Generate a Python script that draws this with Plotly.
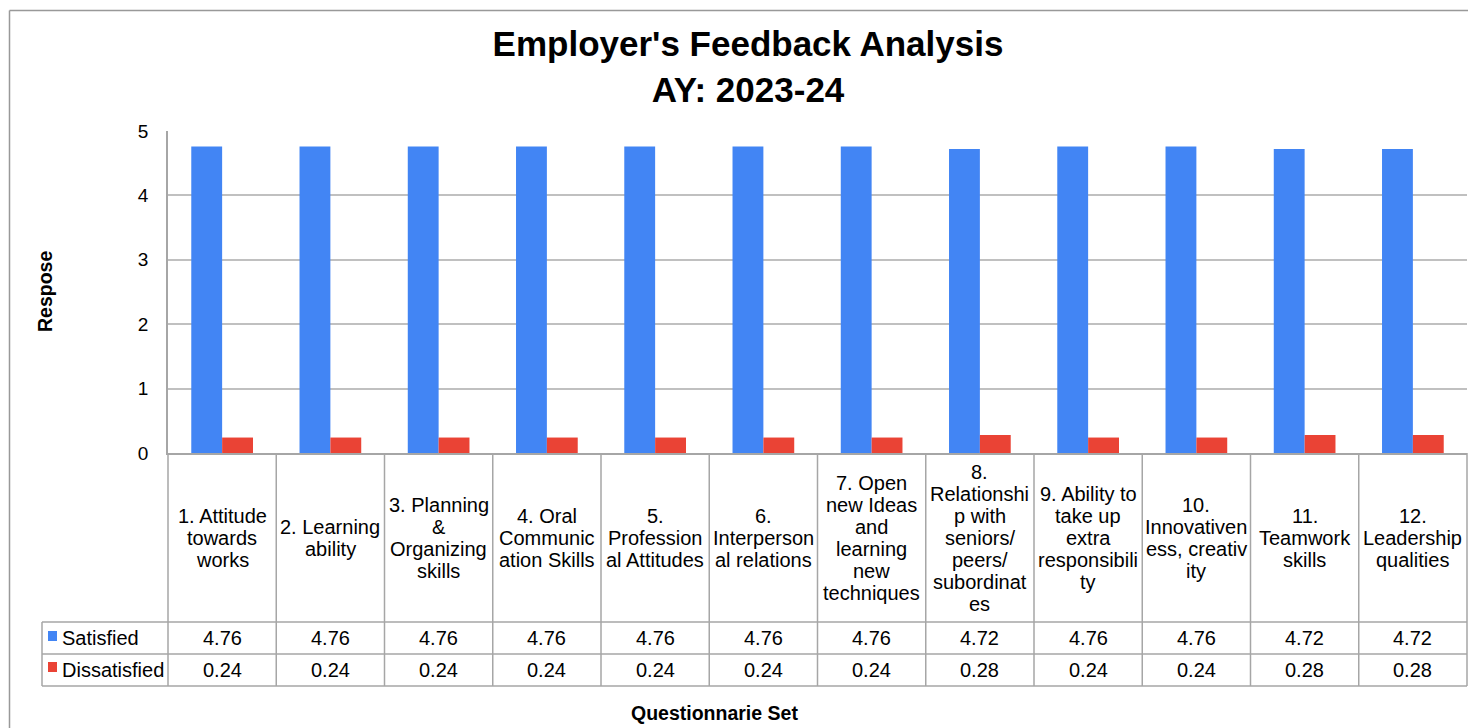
import plotly.graph_objects as go

# Data
categories = [
    "1. Attitude<br>towards<br>works",
    "2. Learning<br>ability",
    "3. Planning<br>&<br>Organizing<br>skills",
    "4. Oral<br>Communic<br>ation Skills",
    "5.<br>Profession<br>al Attitudes",
    "6.<br>Interperson<br>al relations",
    "7. Open<br>new Ideas<br>and<br>learning<br>new<br>techniques",
    "8.<br>Relationshi<br>p with<br>seniors/<br>peers/<br>subordinat<br>es",
    "9. Ability to<br>take up<br>extra<br>responsibili<br>ty",
    "10.<br>Innovativen<br>ess, creativ<br>ity",
    "11.<br>Teamwork<br>skills",
    "12.<br>Leadership<br>qualities",
]
satisfied = [4.76, 4.76, 4.76, 4.76, 4.76, 4.76, 4.76, 4.72, 4.76, 4.76, 4.72, 4.72]
dissatisfied = [0.24, 0.24, 0.24, 0.24, 0.24, 0.24, 0.24, 0.28, 0.24, 0.24, 0.28, 0.28]
series_names = ["Satisfied", "Dissatisfied"]
y_ticks = [0, 1, 2, 3, 4, 5]

# Colors / fonts
blue = "#4285F4"
red = "#EA4335"
grid_color = "#c0c0c0"
table_line = "#a6a6a6"
font_family = "Liberation Sans, Arial, sans-serif"

# the page body has an 8px margin, so the figure starts at (8, 8) on screen
OFF = 8
W, H = 1476 - OFF, 728 - OFF
# target screen positions of the plot area
SX0, SX1, SY0, SY1 = 168, 1467, 131, 453
L, R, T, B = SX0 - OFF, W - (SX1 - OFF), SY0 - OFF, H - (SY1 - OFF)
plot_w = SX1 - SX0
plot_h = SY1 - SY0


def px(x):
    # screen x pixel -> paper
    return (x - SX0) / plot_w


def py(y):
    # screen y pixel -> paper
    return (SY1 - y) / plot_h


n = len(categories)
keys = [str(i) for i in range(n)]

fig = go.Figure()

fig.add_trace(go.Bar(
    x=keys, y=satisfied, name=series_names[0],
    marker=dict(color=blue, line=dict(width=0)),
))
fig.add_trace(go.Bar(
    x=keys, y=dissatisfied, name=series_names[1],
    marker=dict(color=red, line=dict(width=0)),
))

shapes = []
# outer chart border
shapes.append(dict(type="line", xref="paper", yref="paper",
                   x0=px(9.5), x1=px(1490), y0=py(10.5), y1=py(10.5),
                   line=dict(color="#999999", width=1.5)))
shapes.append(dict(type="line", xref="paper", yref="paper",
                   x0=px(9.5), x1=px(9.5), y0=py(10.5), y1=py(740),
                   line=dict(color="#999999", width=1.5)))

# data table grid
row_lines = [622, 654, 686]
for i in range(n + 1):
    shapes.append(dict(type="line", xref="paper", yref="paper",
                       x0=i / n, x1=i / n, y0=0, y1=py(row_lines[-1]),
                       line=dict(color=table_line, width=1.5)))
for yl in row_lines:
    shapes.append(dict(type="line", xref="paper", yref="paper",
                       x0=px(42), x1=1, y0=py(yl), y1=py(yl),
                       line=dict(color=table_line, width=1.5)))
shapes.append(dict(type="line", xref="paper", yref="paper",
                   x0=px(42), x1=px(42), y0=py(row_lines[0]), y1=py(row_lines[-1]),
                   line=dict(color=table_line, width=1.5)))

# legend keys in the table
for (y0, y1), c in zip([(631, 641), (662, 672)], [blue, red]):
    shapes.append(dict(type="rect", xref="paper", yref="paper",
                       x0=px(48), x1=px(57), y0=py(y1), y1=py(y0),
                       fillcolor=c, line=dict(width=0)))

annotations = []
# category labels, one annotation per line so spacing matches
label_center = (SY1 + row_lines[0]) / 2
for k, lab in zip(keys, categories):
    lines = lab.split("<br>")
    for j, ln in enumerate(lines):
        annotations.append(dict(
            x=k, xref="x", y=py(label_center), yref="paper",
            text=ln, showarrow=False, xanchor="center", yanchor="middle",
            yshift=-(j - (len(lines) - 1) / 2) * 22,
            font=dict(size=20, color="black", family=font_family),
        ))

# value rows
row_centers = [(row_lines[0] + row_lines[1]) / 2, (row_lines[1] + row_lines[2]) / 2]
for vals, yc, nm in zip([satisfied, dissatisfied], row_centers, series_names):
    annotations.append(dict(
        x=px(60), xref="paper", y=py(yc), yref="paper", text=nm,
        showarrow=False, xanchor="left", yanchor="middle",
        font=dict(size=20, color="black", family=font_family),
    ))
    for k, v in zip(keys, vals):
        annotations.append(dict(
            x=k, xref="x", y=py(yc), yref="paper", text=f"{v:.2f}",
            showarrow=False, xanchor="center", yanchor="middle",
            font=dict(size=20, color="black", family=font_family),
        ))

# axis titles
annotations.append(dict(
    x=px(45), xref="paper", y=0.5, yref="paper", text="<b>Respose</b>",
    textangle=-90, showarrow=False, xanchor="center", yanchor="middle",
    font=dict(size=19.5, color="black", family=font_family),
))
annotations.append(dict(
    x=px(714), xref="paper", y=py(713), yref="paper", text="<b>Questionnarie Set</b>",
    showarrow=False, xanchor="center", yanchor="middle",
    font=dict(size=19.5, color="black", family=font_family),
))

fig.update_layout(
    width=W, height=H,
    margin=dict(l=L, r=R, t=T, b=B),
    paper_bgcolor="white",
    plot_bgcolor="white",
    showlegend=False,
    barmode="group",
    bargap=0.43,
    bargroupgap=0,
    title=dict(
        text="<b>Employer's Feedback Analysis<br>AY: 2023-24</b>",
        x=(748 - OFF) / W, xanchor="center", y=1 - (56 - OFF) / H, yanchor="middle",
        font=dict(size=35, color="black", family=font_family),
    ),
    shapes=shapes,
    annotations=annotations,
    font=dict(family=font_family, color="black"),
)

fig.update_xaxes(
    showticklabels=False,
    showgrid=False,
    showline=True,
    linecolor=table_line,
    linewidth=2,
    ticks="",
    range=[-0.5, n - 0.5],
)

fig.update_yaxes(
    range=[0, 5],
    tickvals=y_ticks,
    showgrid=True,
    gridcolor=grid_color,
    gridwidth=1.5,
    showline=True,
    linecolor=table_line,
    linewidth=1.5,
    zeroline=False,
    ticks="",
    ticklabelstandoff=14,
    tickfont=dict(size=19, color="black", family=font_family),
)

fig.write_html("out.html")
